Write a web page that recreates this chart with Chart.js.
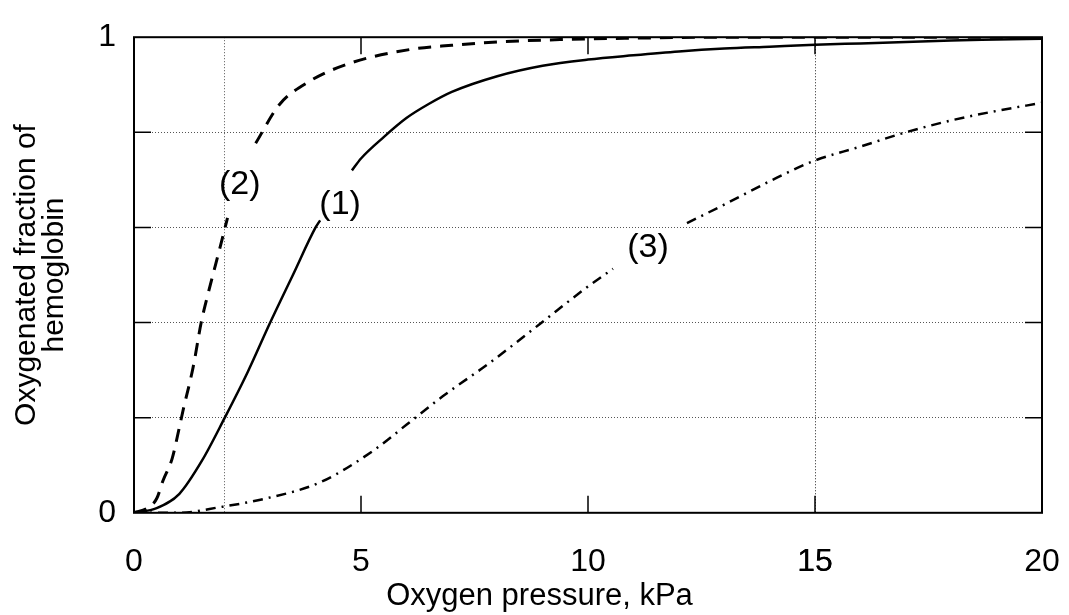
<!DOCTYPE html>
<html>
<head>
<meta charset="utf-8">
<script src="https://cdn.jsdelivr.net/npm/chart.js@4"></script>
<style>
  html, body { margin: 0; padding: 0; background: #fff; }
  #wrap { width: 1069px; height: 615px; }
</style>
</head>
<body>
<div id="wrap"><canvas id="hbChart" width="1069" height="615"></canvas></div>
<script>
// valores (presion en kPa, fraccion oxigenada)
const presion1 = [0, 0.5, 1, 1.5, 2, 2.5, 3, 3.5, 4, 4.1, 4.5, 4.8, 5, 5.5, 6, 6.5, 7, 8, 9, 10, 11, 12, 13, 14, 15, 16, 17, 18, 19, 20];
const fraccion1 = [0, 0.01, 0.04, 0.11, 0.2, 0.295, 0.4, 0.5, 0.6, 0.615, null, 0.72, 0.745, 0.79, 0.83, 0.86, 0.885, 0.918, 0.94, 0.953, 0.962, 0.97, 0.976, 0.98, 0.984, 0.987, 0.99, 0.993, 0.995, 0.997];

const presion2 = [0, 0.3, 0.5, 0.64, 0.84, 1, 1.08, 1.3, 1.48, 1.63, 1.89, 2.06, 2.4, 2.68, 3.2, 3.86, 4.75, 6.07, 7, 8, 9.4, 11, 13, 15, 20];
const fraccion2 = [0, 0.01, 0.03, 0.068, 0.114, 0.18, 0.215, 0.305, 0.4, 0.46, 0.556, 0.62, null, 0.777, 0.858, 0.907, 0.945, 0.974, 0.983, 0.99, 0.995, 0.998, 1, 1, 1];

const presion3 = [0, 1, 1.9, 2.9, 4.1, 5.26, 6, 6.8, 7.83, 8.94, 9.96, 10.55, 11.3, 12.18, 13, 14, 14.95, 16, 17, 18, 19, 20];
const fraccion3 = [0, 0, 0.012, 0.03, 0.064, 0.13, 0.185, 0.245, 0.315, 0.397, 0.473, 0.513, null, 0.609, 0.648, 0.697, 0.739, 0.77, 0.8, 0.825, 0.845, 0.862];

const ticksX = [0, 5, 10, 15, 20];
const ticksY = [0, 0.2, 0.4, 0.6, 0.8, 1];
const etiquetasY = ['0', '', '', '', '', '1'];
const lineasGuiaX = [2, 15];

// etiquetas de las curvas (en unidades de los ejes)
const etiquetasCurvas = [
    { texto: '(1)', x: 4.54, y: 0.649 },
    { texto: '(2)', x: 2.33, y: 0.69 },
    { texto: '(3)', x: 11.32, y: 0.557 }
];

const fuente = 'Liberation Sans, Arial, sans-serif';

function puntos(xs, ys) {
    return xs.map((x, i) => ({ x: x, y: ys[i] }));
}

// marco completo y marcas hacia dentro
const marcoPlugin = {
    id: 'marco',
    afterDatasetsDraw(chart) {
        const { ctx, chartArea: a, scales } = chart;
        const largo = 17;
        ctx.save();
        ctx.strokeStyle = '#000';
        ctx.lineWidth = 1.5;
        ctx.beginPath();
        [5, 10, 15].forEach(v => {
            const px = scales.x.getPixelForValue(v);
            ctx.moveTo(px, a.bottom); ctx.lineTo(px, a.bottom - largo);
            ctx.moveTo(px, a.top); ctx.lineTo(px, a.top + largo);
        });
        [0.2, 0.4, 0.6, 0.8].forEach(v => {
            const py = scales.y.getPixelForValue(v);
            ctx.moveTo(a.left, py); ctx.lineTo(a.left + largo, py);
            ctx.moveTo(a.right, py); ctx.lineTo(a.right - largo, py);
        });
        ctx.stroke();
        ctx.lineWidth = 2;
        ctx.strokeRect(a.left, a.top, a.right - a.left, a.bottom - a.top);
        ctx.restore();
    }
};

const etiquetasPlugin = {
    id: 'etiquetasCurvas',
    afterDatasetsDraw(chart) {
        const { ctx, scales } = chart;
        ctx.save();
        ctx.font = '34px ' + fuente;
        ctx.fillStyle = '#000';
        ctx.textAlign = 'center';
        ctx.textBaseline = 'middle';
        etiquetasCurvas.forEach(e => {
            ctx.fillText(e.texto, scales.x.getPixelForValue(e.x), scales.y.getPixelForValue(e.y));
        });
        ctx.restore();
    }
};

const ctx = document.getElementById('hbChart').getContext('2d');
new Chart(ctx, {
    type: 'line',
    data: {
        datasets: [
            {
                label: '(1)',
                data: puntos(presion1, fraccion1),
                borderColor: '#000',
                borderWidth: 2.5,
                pointRadius: 0,
                cubicInterpolationMode: 'monotone',
                spanGaps: false
            },
            {
                label: '(2)',
                data: puntos(presion2, fraccion2),
                borderColor: '#000',
                borderWidth: 3,
                borderDash: [13, 9],
                pointRadius: 0,
                cubicInterpolationMode: 'monotone',
                spanGaps: false
            },
            {
                label: '(3)',
                data: puntos(presion3, fraccion3),
                borderColor: '#000',
                borderWidth: 2.5,
                borderDash: [10, 6, 2, 6],
                pointRadius: 0,
                cubicInterpolationMode: 'monotone',
                spanGaps: false
            }
        ]
    },
    options: {
        responsive: false,
        animation: false,
        layout: { padding: { top: 35, right: 0, left: 10, bottom: 0 } },
        plugins: {
            legend: { display: false },
            tooltip: { enabled: false },
            title: {
                display: true,
                position: 'bottom',
                text: 'Oxygen pressure, kPa',
                color: '#000',
                font: { family: fuente, size: 31, weight: 'normal', lineHeight: 1.2 },
                padding: { top: 0, bottom: 0 }
            }
        },
        scales: {
            x: {
                type: 'linear',
                min: 0,
                max: 20,
                afterBuildTicks: scale => {
                    scale.ticks = ticksX.concat(lineasGuiaX).sort((a, b) => a - b).map(v => ({ value: v }));
                },
                afterFit: scale => {
                    scale.height = 65;
                    scale.paddingLeft = 0;
                    scale.paddingRight = 27;
                },
                ticks: {
                    autoSkip: false,
                    maxRotation: 0,
                    padding: 30,
                    color: '#000',
                    font: { family: fuente, size: 32 },
                    callback: v => ticksX.includes(v) ? String(v) : ''
                },
                grid: {
                    drawTicks: false,
                    color: c => lineasGuiaX.includes(c.tick.value) ? '#555' : 'rgba(0,0,0,0)',
                    lineWidth: 1
                },
                border: { display: false, dash: [1, 2] }
            },
            y: {
                min: 0,
                max: 1,
                afterBuildTicks: scale => {
                    scale.ticks = ticksY.map(v => ({ value: v }));
                },
                afterFit: scale => { scale.width = 124; },
                ticks: {
                    padding: 18,
                    color: '#000',
                    font: { family: fuente, size: 32 },
                    callback: (v, i) => etiquetasY[i]
                },
                grid: {
                    drawTicks: false,
                    color: c => (c.tick.value > 0 && c.tick.value < 1) ? '#555' : 'rgba(0,0,0,0)',
                    lineWidth: 1
                },
                border: { display: false, dash: [1, 2] },
                title: {
                    display: true,
                    text: ['Oxygenated fraction of', 'hemoglobin'],
                    color: '#000',
                    font: { family: fuente, size: 30, lineHeight: 0.95 },
                    padding: { top: 2, bottom: 8 }
                }
            }
        }
    },
    plugins: [marcoPlugin, etiquetasPlugin]
});
</script>
</body>
</html>
